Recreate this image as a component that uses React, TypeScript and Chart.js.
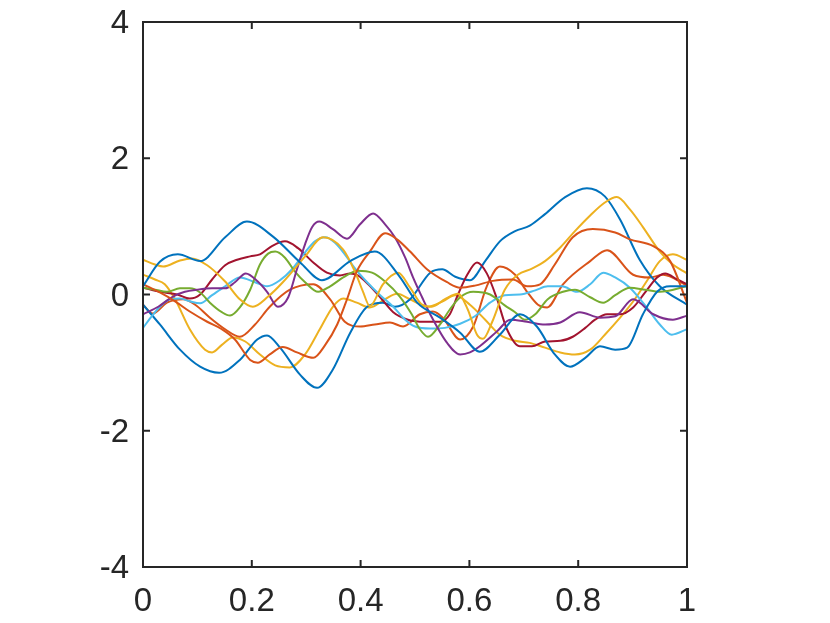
import { useEffect, useRef } from "react";
import { Chart, registerables } from "chart.js";

Chart.register(...registerables);

const COLORS = ["#0072BD", "#D95319", "#EDB120", "#7E2F8E", "#77AC30", "#4DBEEE", "#A2142F", "#0072BD", "#D95319", "#EDB120"];

const X_RANGE = [0, 1];
const Y_RANGE = [-4, 4];
const X_TICKS = [0, 0.2, 0.4, 0.6, 0.8, 1];
const Y_TICKS = [-4, -2, 0, 2, 4];

const blue1X = [0, 0.031, 0.064, 0.105, 0.151, 0.191, 0.239, 0.289, 0.329, 0.381, 0.426, 0.472, 0.504, 0.546, 0.583, 0.619, 0.656, 0.693, 0.724, 0.757, 0.785, 0.813, 0.84, 0.868, 0.89, 0.919, 0.945, 0.969, 1];
const blue1Y = [0.12, 0.48, 0.59, 0.49, 0.84, 1.07, 0.85, 0.47, 0.21, 0.49, 0.63, 0.26, -0.12, -0.34, -0.56, -0.84, -0.59, -0.29, -0.47, -0.88, -1.06, -0.93, -0.76, -0.81, -0.78, -0.29, 0.04, 0.12, 0.12];

const orange1X = [0, 0.031, 0.059, 0.086, 0.118, 0.145, 0.169, 0.197, 0.211, 0.233, 0.257, 0.283, 0.313, 0.335, 0.357, 0.375, 0.393, 0.417, 0.445, 0.467, 0.491, 0.522, 0.559, 0.583, 0.61, 0.643, 0.68, 0.706, 0.73, 0.757, 0.79, 0.827, 0.868, 0.895, 0.938, 0.969, 1];
const orange1Y = [0.15, 0.03, -0.1, -0.25, -0.4, -0.51, -0.66, -0.96, -1.0, -0.88, -0.77, -0.85, -0.93, -0.74, -0.44, -0.07, 0.34, 0.63, 0.9, 0.81, 0.63, 0.37, 0.18, 0.1, 0.13, 0.2, 0.22, 0.12, 0.15, 0.44, 0.84, 0.96, 0.91, 0.81, 0.71, 0.49, -0.12];

const yellow1X = [0, 0.022, 0.037, 0.068, 0.09, 0.118, 0.151, 0.178, 0.202, 0.23, 0.257, 0.298, 0.331, 0.368, 0.39, 0.404, 0.417, 0.441, 0.469, 0.491, 0.513, 0.531, 0.555, 0.579, 0.597, 0.614, 0.625, 0.642, 0.665, 0.689, 0.715, 0.739, 0.767, 0.794, 0.822, 0.849, 0.871, 0.895, 0.919, 0.95, 0.974, 1];
const yellow1Y = [0.51, 0.44, 0.41, 0.5, 0.53, 0.43, 0.19, -0.07, -0.18, -0.03, 0.18, 0.56, 0.84, 0.66, 0.33, 0.05, -0.17, 0.15, 0.32, 0.1, -0.15, -0.18, -0.07, 0.01, -0.22, -0.59, -0.65, -0.4, 0.07, 0.29, 0.38, 0.49, 0.69, 0.93, 1.16, 1.35, 1.43, 1.25, 0.99, 0.63, 0.44, 0.31];

const purpleX = [0, 0.028, 0.055, 0.077, 0.099, 0.127, 0.151, 0.169, 0.189, 0.211, 0.228, 0.248, 0.267, 0.283, 0.298, 0.311, 0.324, 0.349, 0.375, 0.399, 0.423, 0.445, 0.463, 0.482, 0.496, 0.513, 0.528, 0.559, 0.583, 0.601, 0.619, 0.651, 0.675, 0.706, 0.739, 0.767, 0.803, 0.84, 0.868, 0.901, 0.938, 0.974, 1];
const purpleY = [-0.29, -0.18, -0.03, 0.04, 0.07, 0.09, 0.09, 0.18, 0.31, 0.19, 0.04, -0.18, -0.04, 0.37, 0.74, 0.99, 1.07, 0.96, 0.82, 1.03, 1.19, 1.03, 0.84, 0.54, 0.26, -0.04, -0.29, -0.71, -0.88, -0.85, -0.76, -0.54, -0.37, -0.4, -0.44, -0.41, -0.26, -0.34, -0.32, -0.07, -0.29, -0.37, -0.31];

const greenX = [0, 0.022, 0.044, 0.068, 0.086, 0.105, 0.123, 0.145, 0.16, 0.178, 0.197, 0.215, 0.23, 0.243, 0.261, 0.279, 0.298, 0.322, 0.344, 0.368, 0.395, 0.421, 0.445, 0.472, 0.494, 0.509, 0.524, 0.546, 0.564, 0.583, 0.607, 0.638, 0.665, 0.684, 0.702, 0.721, 0.744, 0.772, 0.794, 0.822, 0.846, 0.868, 0.895, 0.923, 0.95, 1];
const greenY = [0.1, 0.07, 0.04, 0.09, 0.09, 0.03, -0.12, -0.26, -0.31, -0.19, 0.07, 0.44, 0.6, 0.63, 0.54, 0.34, 0.18, 0.04, 0.12, 0.25, 0.35, 0.32, 0.19, -0.03, -0.29, -0.51, -0.62, -0.44, -0.22, -0.04, 0.04, 0, -0.16, -0.26, -0.37, -0.29, -0.07, 0.04, 0.07, -0.04, -0.12, -0.01, 0.1, 0.07, 0.04, 0.12];

const cyanX = [0, 0.017, 0.031, 0.05, 0.068, 0.086, 0.105, 0.127, 0.151, 0.178, 0.206, 0.228, 0.252, 0.274, 0.298, 0.316, 0.335, 0.353, 0.371, 0.39, 0.412, 0.436, 0.46, 0.482, 0.5, 0.528, 0.555, 0.583, 0.61, 0.638, 0.665, 0.693, 0.721, 0.744, 0.77, 0.798, 0.822, 0.846, 0.868, 0.895, 0.926, 0.95, 0.972, 1];
const cyanY = [-0.49, -0.31, -0.18, -0.07, -0.06, -0.1, -0.13, -0.01, 0.12, 0.25, 0.18, 0.12, 0.21, 0.37, 0.62, 0.78, 0.84, 0.76, 0.59, 0.38, 0.18, -0.01, -0.18, -0.37, -0.47, -0.5, -0.49, -0.43, -0.32, -0.12, -0.01, 0, 0.06, 0.12, 0.12, 0.04, 0.15, 0.32, 0.25, 0.1, -0.19, -0.44, -0.59, -0.51];

const darkRedX = [0, 0.031, 0.063, 0.086, 0.105, 0.127, 0.151, 0.173, 0.197, 0.215, 0.237, 0.261, 0.285, 0.313, 0.338, 0.362, 0.381, 0.395, 0.414, 0.436, 0.46, 0.487, 0.518, 0.546, 0.564, 0.579, 0.596, 0.614, 0.632, 0.651, 0.669, 0.693, 0.715, 0.739, 0.767, 0.79, 0.813, 0.831, 0.853, 0.877, 0.901, 0.923, 0.945, 0.96, 0.982, 1];
const darkRedY = [0.1, 0.04, 0, -0.06, 0, 0.22, 0.43, 0.51, 0.56, 0.59, 0.71, 0.78, 0.68, 0.47, 0.32, 0.28, 0.31, 0.28, 0.15, -0.04, -0.26, -0.37, -0.4, -0.4, -0.29, 0, 0.29, 0.47, 0.31, -0.07, -0.51, -0.76, -0.76, -0.69, -0.68, -0.62, -0.49, -0.37, -0.29, -0.29, -0.19, 0.03, 0.25, 0.31, 0.22, 0.15];

const blue2X = [0, 0.031, 0.068, 0.105, 0.14, 0.178, 0.21, 0.228, 0.252, 0.289, 0.32, 0.349, 0.381, 0.412, 0.441, 0.463, 0.491, 0.528, 0.55, 0.574, 0.601, 0.629, 0.656, 0.684, 0.711, 0.739, 0.776, 0.816, 0.849, 0.877, 0.913, 0.95, 1];
const blue2Y = [-0.15, -0.44, -0.81, -1.06, -1.15, -0.96, -0.66, -0.6, -0.78, -1.18, -1.37, -1.1, -0.56, -0.18, -0.12, -0.18, -0.07, 0.32, 0.37, 0.26, 0.21, 0.49, 0.78, 0.93, 1.01, 1.18, 1.43, 1.56, 1.44, 1.1, 0.51, 0.12, -0.15];

const orange2X = [0, 0.018, 0.044, 0.074, 0.096, 0.123, 0.151, 0.178, 0.206, 0.233, 0.27, 0.313, 0.344, 0.371, 0.399, 0.426, 0.454, 0.478, 0.509, 0.533, 0.551, 0.583, 0.607, 0.632, 0.656, 0.684, 0.706, 0.726, 0.743, 0.772, 0.822, 0.853, 0.901, 0.932, 0.956, 1];
const orange2Y = [-0.15, -0.28, -0.12, -0.07, -0.15, -0.34, -0.51, -0.62, -0.44, -0.18, 0.07, 0.15, -0.07, -0.4, -0.47, -0.44, -0.41, -0.47, -0.29, -0.25, -0.34, -0.66, -0.47, 0.12, 0.41, 0.29, 0.04, -0.15, -0.19, 0.15, 0.49, 0.65, 0.29, 0.25, 0.29, 0.13];

const yellow2X = [0, 0.022, 0.04, 0.059, 0.086, 0.114, 0.127, 0.145, 0.165, 0.188, 0.215, 0.243, 0.27, 0.298, 0.325, 0.349, 0.368, 0.393, 0.417, 0.445, 0.467, 0.491, 0.524, 0.551, 0.574, 0.601, 0.629, 0.656, 0.684, 0.711, 0.739, 0.767, 0.794, 0.822, 0.849, 0.877, 0.904, 0.928, 0.95, 0.974, 1];
const yellow2Y = [0.29, 0.22, 0.15, -0.07, -0.51, -0.81, -0.85, -0.74, -0.63, -0.69, -0.88, -1.04, -1.07, -0.88, -0.51, -0.18, -0.06, -0.12, -0.19, -0.07, 0.01, -0.07, -0.18, -0.1, -0.01, -0.15, -0.37, -0.59, -0.68, -0.71, -0.78, -0.85, -0.88, -0.81, -0.59, -0.34, -0.07, 0.22, 0.49, 0.59, 0.51];

const SERIES_X = [blue1X, orange1X, yellow1X, purpleX, greenX, cyanX, darkRedX, blue2X, orange2X, yellow2X];
const SERIES_Y = [blue1Y, orange1Y, yellow1Y, purpleY, greenY, cyanY, darkRedY, blue2Y, orange2Y, yellow2Y];

const AXIS_COLOR = "#262626";
const FONT = { family: "'Liberation Sans', Arial, Helvetica, sans-serif", size: 33 };

const boxPlugin = {
  id: "matlabBox",
  afterDatasetsDraw(chart: any) {
    const { ctx, chartArea, scales } = chart;
    const { left, right, top, bottom } = chartArea;
    ctx.save();
    ctx.strokeStyle = AXIS_COLOR;
    ctx.lineWidth = 2;
    ctx.strokeRect(left, top, right - left, bottom - top);
    const len = 7;
    ctx.beginPath();
    X_TICKS.forEach((v) => {
      const px = scales.x.getPixelForValue(v);
      ctx.moveTo(px, bottom);
      ctx.lineTo(px, bottom - len);
      ctx.moveTo(px, top);
      ctx.lineTo(px, top + len);
    });
    Y_TICKS.forEach((v) => {
      const py = scales.y.getPixelForValue(v);
      ctx.moveTo(left, py);
      ctx.lineTo(left + len, py);
      ctx.moveTo(right, py);
      ctx.lineTo(right - len, py);
    });
    ctx.stroke();
    ctx.restore();
  },
};

export default function App() {
  const ref = useRef<HTMLCanvasElement | null>(null);

  useEffect(() => {
    if (!ref.current) return;
    const datasets = SERIES_X.map((xs, i) => ({
      data: xs.map((x, j) => ({ x, y: SERIES_Y[i][j] })),
      borderColor: COLORS[i],
      backgroundColor: COLORS[i],
      borderWidth: 2,
      pointRadius: 0,
      fill: false,
      cubicInterpolationMode: "monotone" as const,
    }));
    const chart = new Chart(ref.current, {
      type: "line",
      data: { datasets },
      options: {
        responsive: false,
        animation: false,
        events: [],
        layout: { padding: { left: 0, right: 143, top: 22, bottom: 0 } },
        plugins: { legend: { display: false }, tooltip: { enabled: false } },
        scales: {
          x: {
            type: "linear",
            min: X_RANGE[0],
            max: X_RANGE[1],
            afterFit: (s: any) => { s.height = 56; s.paddingLeft = 0; s.paddingRight = 0; },
            afterBuildTicks: (s: any) => { s.ticks = X_TICKS.map((v) => ({ value: v })); },
            ticks: {
              color: AXIS_COLOR,
              font: FONT,
              padding: 15,
              maxRotation: 0,
              callback: (v: any) => String(Number(Number(v).toFixed(1))),
            },
            grid: { display: false, drawTicks: false },
            border: { display: false },
          },
          y: {
            type: "linear",
            min: Y_RANGE[0],
            max: Y_RANGE[1],
            afterFit: (s: any) => { s.width = 143; s.paddingTop = 0; s.paddingBottom = 0; },
            afterBuildTicks: (s: any) => { s.ticks = Y_TICKS.map((v) => ({ value: v })); },
            ticks: {
              color: AXIS_COLOR,
              font: FONT,
              padding: 14,
              labelOffset: 2,
              callback: (v: any) => String(v),
            },
            grid: { display: false, drawTicks: false },
            border: { display: false },
          },
        },
      },
      plugins: [boxPlugin],
    });
    return () => chart.destroy();
  }, []);

  return (
    <div style={{ position: "absolute", left: 0, top: 0, width: 830, height: 623, background: "#fff" }}>
      <canvas ref={ref} width={830} height={623} style={{ width: 830, height: 623, display: "block" }} />
    </div>
  );
}
